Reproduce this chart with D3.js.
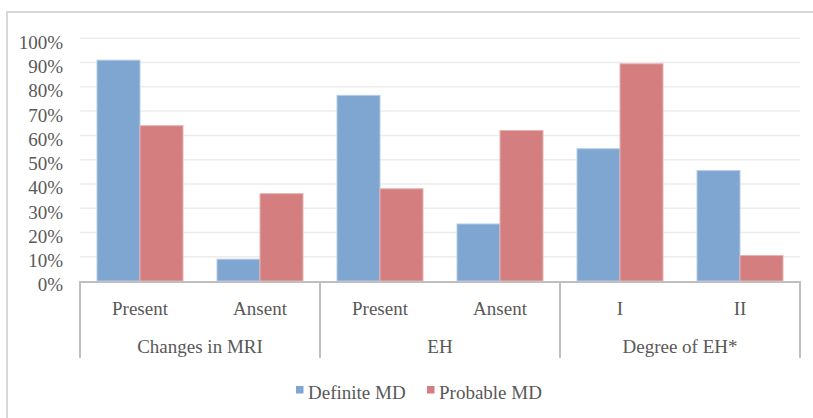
<!DOCTYPE html>
<html>
<head>
<meta charset="utf-8">
<script src="https://cdn.jsdelivr.net/npm/d3@7"></script>
<style>
  html, body { margin: 0; padding: 0; background: #ffffff; }
  svg { display: block; }
  svg text { font-family: "Times New Roman", "Liberation Serif", "DejaVu Serif", serif !important; fill: #595959; }
</style>
</head>
<body>
<script>
// Category labels (inner level) and their group labels (outer level)
const subLabels = ["Present", "Ansent", "Present", "Ansent", "I", "II"];
const groupLabels = ["Changes in MRI", "EH", "Degree of EH*"];
const groupSizes = [2, 2, 2];

// Series values, percent
const seriesNames = ["Definite MD", "Probable MD"];
const definite = [91, 9, 76.5, 23.5, 54.5, 45.5];
const probable = [64, 36, 38, 62, 89.5, 10.5];

// Y axis ticks
const yTicks = [0, 10, 20, 30, 40, 50, 60, 70, 80, 90, 100];

const colors = ["#7fa6d1", "#d47e7f"];
const strokes = ["#b6cde6", "#e6b3b3"];
const FONT = "'Times New Roman', 'Liberation Serif', 'DejaVu Serif', serif";

const W = 813, H = 418;
const margin = { left: 80, right: 13, top: 38.3, bottom: 137 };
const plotRight = W - margin.right;
const baseY = 281;

const svg = d3.select("body").append("svg")
  .attr("width", W).attr("height", H)
  .attr("font-family", FONT);

// Outer chart frame
svg.append("rect")
  .attr("x", 7).attr("y", 12)
  .attr("width", W + 20).attr("height", H + 20)
  .attr("fill", "none").attr("stroke", "#d9d9d9").attr("stroke-width", 2);

const idx = d3.range(subLabels.length);
const x0 = d3.scaleBand().domain(idx).range([margin.left, plotRight]).padding(0);
const x1 = d3.scaleBand().domain(seriesNames)
  .range([17, x0.bandwidth() - 17]).padding(0);
const y = d3.scaleLinear().domain([0, 100]).range([baseY, margin.top]);

// Gridlines
svg.append("g").selectAll("line").data(yTicks.filter(d => d > 0)).join("line")
  .attr("x1", margin.left).attr("x2", plotRight)
  .attr("y1", d => y(d)).attr("y2", d => y(d))
  .attr("stroke", "#ececec").attr("stroke-width", 1.5);

// Y axis labels
const yAxis = d3.axisLeft(y).tickValues(yTicks).tickFormat(d => d + "%").tickSize(0).tickPadding(17);
const gy = svg.append("g").attr("transform", `translate(${margin.left},0)`).call(yAxis);
gy.attr("font-family", FONT).attr("font-size", 19);
gy.select(".domain").remove();
gy.selectAll("text").attr("fill", "#595959").attr("dy", "0.52em");

// Bars
const series = [definite, probable];
series.forEach((vals, s) => {
  svg.append("g").selectAll("rect").data(idx).join("rect")
    .attr("x", i => x0(i) + x1(seriesNames[s]))
    .attr("y", i => y(vals[i]))
    .attr("width", x1.bandwidth())
    .attr("height", i => baseY - y(vals[i]))
    .attr("fill", colors[s])
    .attr("stroke", strokes[s]).attr("stroke-width", 1);
});

// Category axis: baseline and group separators
const axisColor = "#bfbfbf";
const axisBottom = 358;
svg.append("line")
  .attr("x1", margin.left - 1).attr("x2", plotRight + 1)
  .attr("y1", baseY + 1).attr("y2", baseY + 1)
  .attr("stroke", axisColor).attr("stroke-width", 2);

const bounds = [0];
groupSizes.forEach(n => bounds.push(bounds[bounds.length - 1] + n));
bounds.forEach(b => {
  const xx = b < idx.length ? x0(b) : plotRight;
  svg.append("line")
    .attr("x1", xx).attr("x2", xx)
    .attr("y1", baseY + 1).attr("y2", axisBottom)
    .attr("stroke", axisColor).attr("stroke-width", 2);
});

// Inner labels
svg.append("g").selectAll("text").data(idx).join("text")
  .attr("x", i => x0(i) + x0.bandwidth() / 2)
  .attr("y", 315)
  .attr("text-anchor", "middle")
  .attr("font-size", 19)
  .text(i => subLabels[i]);

// Group labels
svg.append("g").selectAll("text").data(groupLabels).join("text")
  .attr("x", (d, g) => {
    const a = x0(bounds[g]);
    const b = bounds[g + 1] < idx.length ? x0(bounds[g + 1]) : plotRight;
    return (a + b) / 2;
  })
  .attr("y", 353)
  .attr("text-anchor", "middle")
  .attr("font-size", 19)
  .text(d => d);

// Legend
const legendX = [296, 427];
const lg = svg.append("g");
seriesNames.forEach((name, s) => {
  lg.append("rect")
    .attr("x", legendX[s]).attr("y", 386)
    .attr("width", 7.5).attr("height", 7.5)
    .attr("fill", colors[s]);
  lg.append("text")
    .attr("x", legendX[s] + 12).attr("y", 399)
    .attr("font-size", 19)
    .text(name);
});
</script>
</body>
</html>
